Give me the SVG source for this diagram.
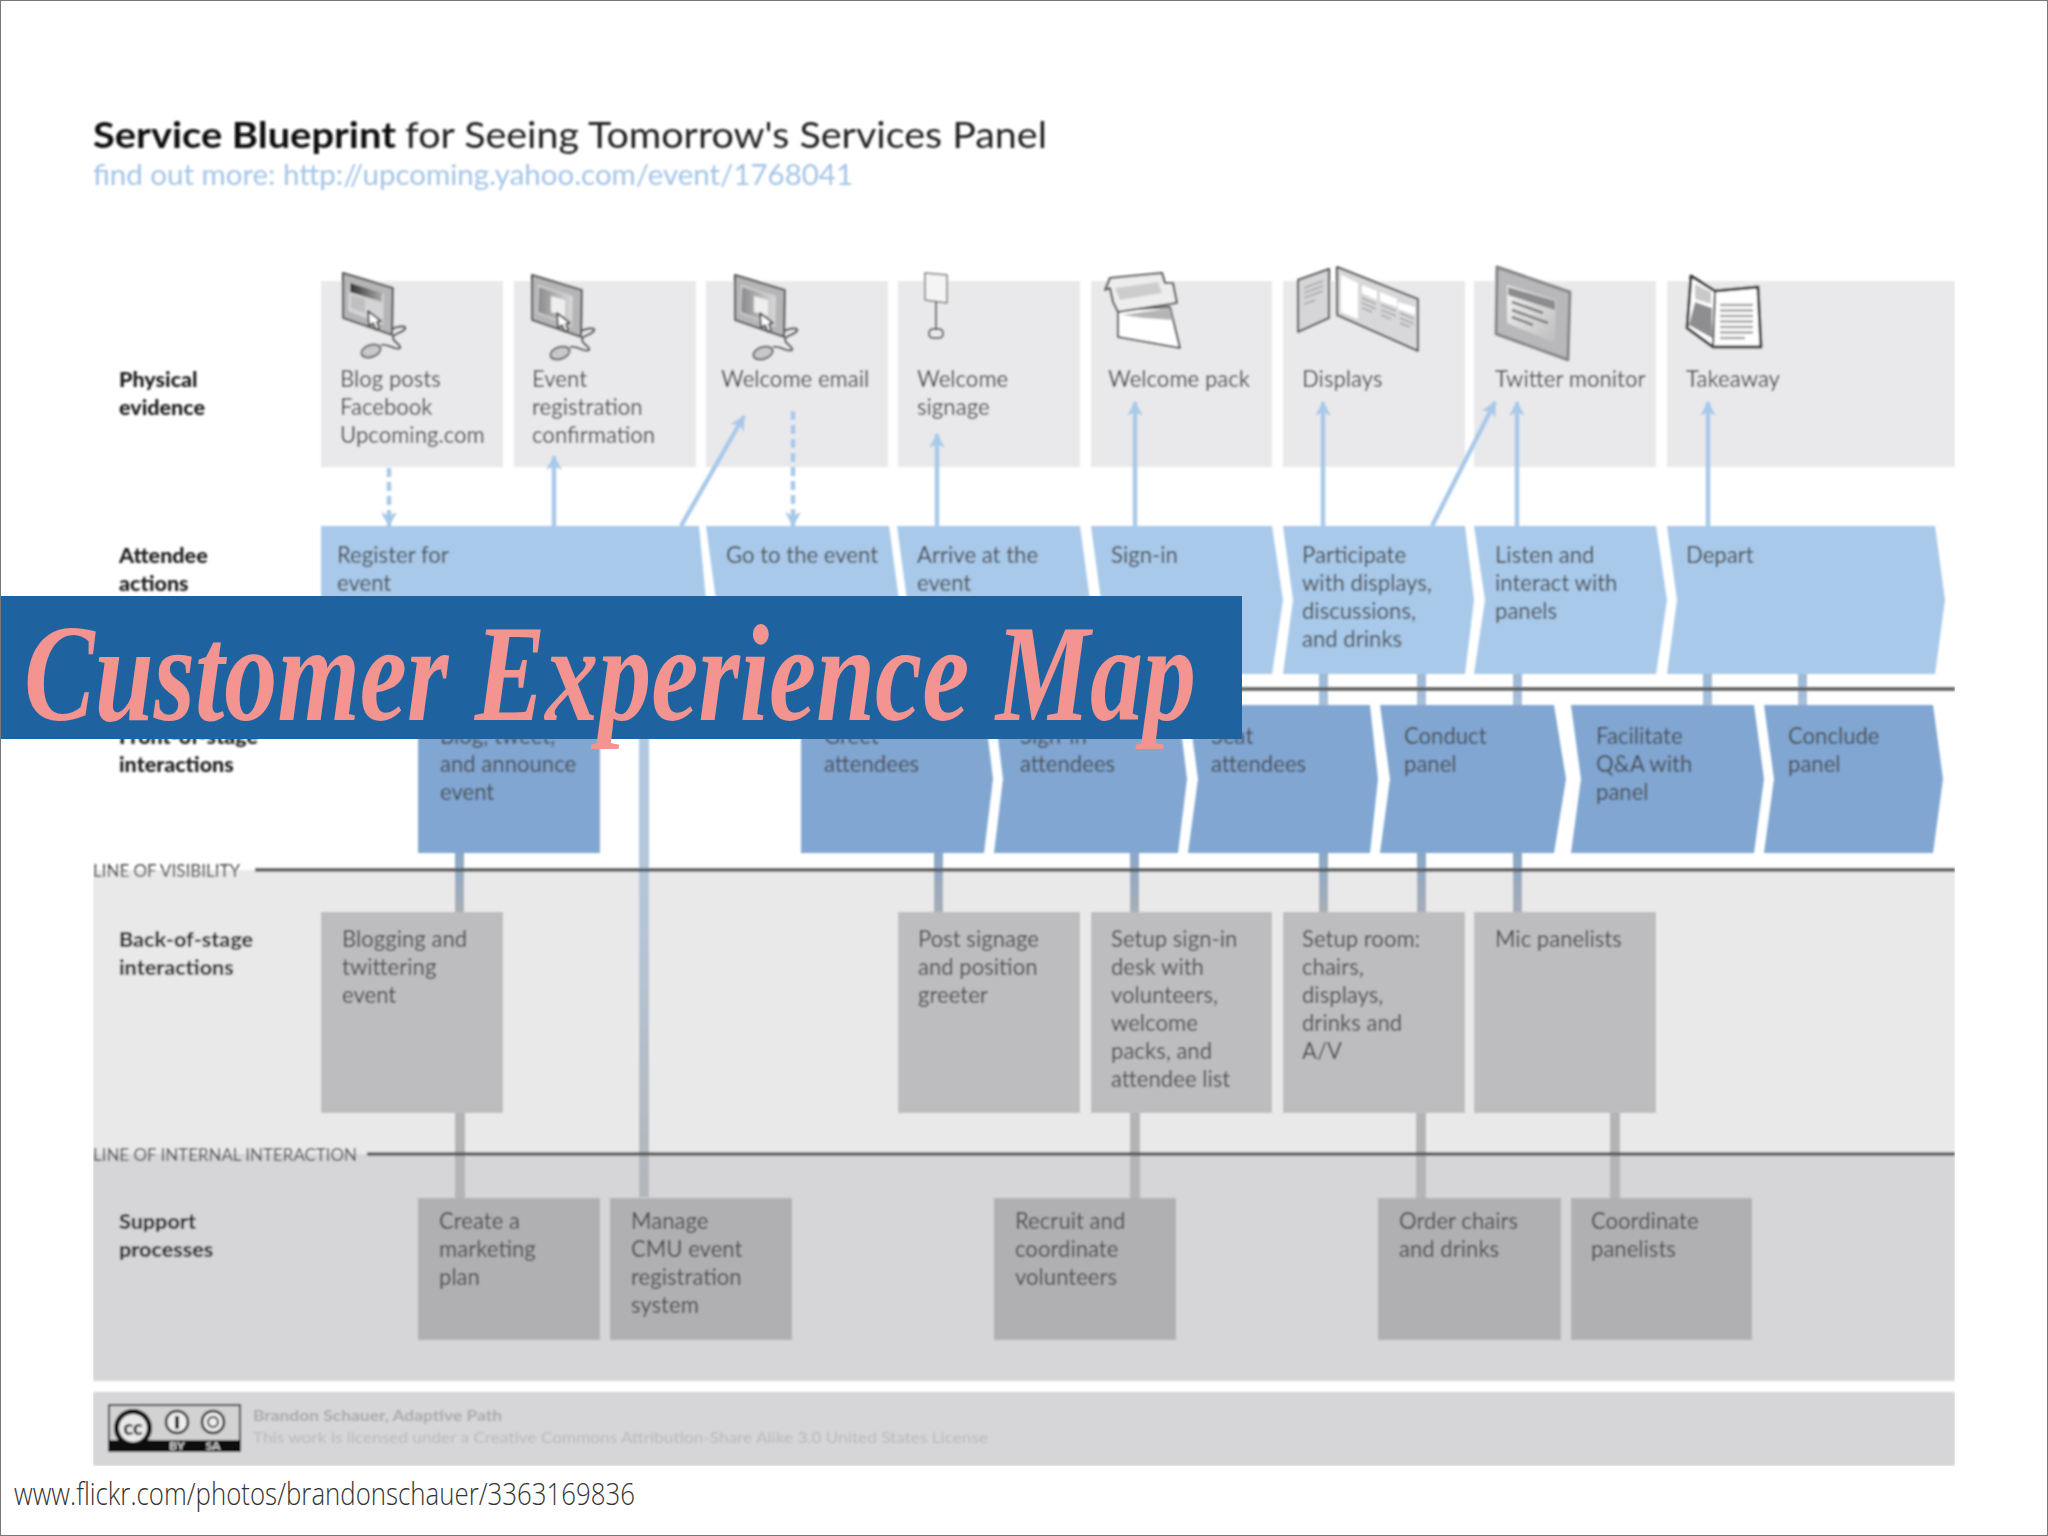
<svg xmlns="http://www.w3.org/2000/svg" width="2048" height="1536" viewBox="0 0 2048 1536">
<defs>
<style>
text{font-family:"Lato","Open Sans","Liberation Sans",sans-serif}
.t{font-size:22.1px;fill:#4a4a4c}
.l{font-size:21.5px;font-weight:900;fill:#1c1c1c}
.pe{fill:#e9e9eb}
.aa{fill:#a8c9e9}
.fs{fill:#80a6d1}
.bs{fill:#bdbdbf}
.su{fill:#b0b0b2}
.ln{stroke:#5a5a5c;stroke-width:3.5;fill:none}
.ar{stroke:#a8c9e9;stroke-width:4.5;fill:none;marker-end:url(#ah)}
.da{stroke:#a8c9e9;stroke-width:4.5;fill:none;stroke-dasharray:9 5;marker-end:url(#ah)}
.ic{fill:#fff;stroke:#555;stroke-width:2.2;stroke-linejoin:round}
.ig{fill:#b5b5b7;stroke:none}
</style>
<marker id="ah" markerUnits="userSpaceOnUse" markerWidth="22" markerHeight="20" refX="14" refY="9" orient="auto"><path d="M0 1 L15 9 L0 17 L4 9Z" fill="#a8c9e9"/></marker>
<linearGradient id="c1" x1="0" y1="0" x2="0" y2="1"><stop offset="0" stop-color="#9db9d6"/><stop offset="1" stop-color="#a9c0d8"/></linearGradient>
<linearGradient id="c2" x1="0" y1="0" x2="0" y2="1"><stop offset="0" stop-color="#8ba8c9"/><stop offset="1" stop-color="#a8adb5"/></linearGradient>
<linearGradient id="c3" x1="0" y1="0" x2="0" y2="1"><stop offset="0" stop-color="#afc9e4"/><stop offset=".5" stop-color="#b5c5d6"/><stop offset="1" stop-color="#b3b6ba"/></linearGradient>
<linearGradient id="hd" x1="0" y1="0" x2="1" y2="0"><stop offset="0" stop-color="#333"/><stop offset="1" stop-color="#aaa"/></linearGradient>
<linearGradient id="scr" x1="0" y1="0" x2="1" y2="0"><stop offset="0" stop-color="#8a8a8c"/><stop offset="1" stop-color="#d8d8d8"/></linearGradient>
<linearGradient id="tw" x1="0" y1="0" x2="1" y2="1"><stop offset="0" stop-color="#f2f2f2"/><stop offset="1" stop-color="#bdbdbf"/></linearGradient>
<filter id="soft" x="0" y="0" width="1" height="1"><feGaussianBlur stdDeviation="1"/></filter>
<g id="mon">
<path class="ic" style="fill:#b5b5b7" d="M343 273 L393 288 L392 335 L343 318Z"/>
<path fill="#d4d4d6" d="M349 283 L384 294 L383 325 L348 311Z"/>
</g>
<g id="cur">
<path class="ic" style="stroke-width:2" d="M368 311 L369 326 L373 323 L376 330 L379 328 L377 322 L381 321Z"/>
<path class="ic" style="fill:none" d="M392 329 C400 325 407 326 405 329 C402 333 392 334 393 338 C394 343 402 345 400 348 C396 351 388 343 381 345"/>
<ellipse cx="371" cy="351" rx="10" ry="6" transform="rotate(-18 371 351)" fill="#c8c8ca" stroke="#666" stroke-width="2"/>
</g>
<g id="doc">
<path fill="url(#scr)" d="M350 285 L383 295 L382 323 L349 310Z"/>
<path fill="#eee" d="M362 294 L376 298 V314 L362 310Z"/>
</g>
</defs>
<rect x="0" y="0" width="2048" height="1536" fill="#fff"/>
<g id="diagram" filter="url(#soft)">
<g id="title">
<text x="93" y="148" font-size="37" font-weight="700" fill="#111" textLength="303" lengthAdjust="spacingAndGlyphs">Service Blueprint</text>
<text x="405" y="148" font-size="37" fill="#222" textLength="642" lengthAdjust="spacingAndGlyphs">for Seeing Tomorrow's Services Panel</text>
<text x="93" y="185" font-size="29" fill="#a3c4e6" textLength="760" lengthAdjust="spacingAndGlyphs">find out more: http://upcoming.yahoo.com/event/1768041</text>
</g>
<g id="bands">
<rect x="93" y="870" width="1862" height="284" fill="#e9e9ea"/>
<rect x="93" y="1154" width="1862" height="227" fill="#d6d6d9"/>
<rect x="93" y="1392" width="1862" height="74" fill="#d6d6d9"/>
</g>
<g id="physical-evidence">
<g id="pe1"><rect class="pe" x="321" y="281" width="182" height="186"/><use href="#mon"/>
<path fill="url(#hd)" d="M350 283 L382 293 V302 L350 292Z"/><path fill="#c0c0c2" d="M351 295 L365 299 V313 L351 308Z"/><use href="#cur"/>
<text class="t"><tspan x="340" y="387">Blog posts</tspan><tspan x="340" y="415">Facebook</tspan><tspan x="340" y="443">Upcoming.com</tspan></text></g>
<g id="pe2"><rect class="pe" x="514" y="281" width="182" height="186"/><use href="#mon" x="189" y="2"/><use href="#doc" x="189" y="2"/><use href="#cur" x="189" y="2"/><text class="t"><tspan x="532" y="387">Event</tspan><tspan x="532" y="415">registration</tspan><tspan x="532" y="443">confirmation</tspan></text></g>
<g id="pe3"><rect class="pe" x="706" y="281" width="182" height="186"/><use href="#mon" x="392" y="2"/><use href="#doc" x="392" y="2"/><use href="#cur" x="392" y="2"/><text class="t" x="721" y="387">Welcome email</text></g>
<g id="pe4"><rect class="pe" x="898" y="281" width="182" height="186"/>
<path class="ic" style="stroke-width:1.5;stroke:#777;fill:#f4f4f4" d="M925 273 L947 275 L947 303 L925 300Z"/><path class="ic" style="fill:none;stroke-width:2" d="M936 302 V329"/><rect class="ic" style="fill:none;stroke-width:2" x="929" y="329" width="14" height="9" rx="4"/>
<text class="t"><tspan x="917" y="387">Welcome</tspan><tspan x="917" y="415">signage</tspan></text></g>
<g id="pe5"><rect class="pe" x="1091" y="281" width="181" height="186"/>
<path class="ic" d="M1118 310 L1170 307 L1180 348 L1118 337Z"/>
<path class="ig" d="M1122 315 L1170 308 L1173 320 L1143 318Z"/>
<path class="ic" style="fill:#ededed" d="M1105 290 L1110 278 L1162 273 L1165 283 L1173 283 L1177 303 L1118 312 L1113 302 L1110 288Z"/>
<path fill="#cdcdcf" d="M1115 288 L1158 282 L1162 293 L1120 300Z"/>
<text class="t" x="1108" y="387">Welcome pack</text></g>
<g id="pe6"><rect class="pe" x="1283" y="281" width="182" height="186"/>
<path class="ic" style="fill:#d6d6d8" d="M1298 280 L1329 269 L1329 318 L1298 332Z"/><path class="ic" style="fill:#d8d8da" d="M1337 267 L1418 299 L1418 351 L1337 315Z"/>
<path fill="#fff" d="M1341 275 L1358 283 V319 L1341 312Z M1362 285 L1377 291 V300 L1362 293Z M1380 292 L1397 299 V307 L1380 301Z M1398 302 L1415 307 V315 L1398 309Z"/>
<path stroke="#a5a5a7" stroke-width="1.5" fill="none" d="M1304 288 L1323 281 M1304 293 L1323 286 M1304 298 L1323 291 M1304 304 L1315 300 M1362 298 L1376 304 M1362 303 L1376 309 M1362 308 L1372 312 M1381 305 L1396 311 M1381 310 L1396 316 M1381 315 L1391 319 M1400 313 L1414 319 M1400 318 L1414 324 M1400 323 L1410 327"/>
<text class="t" x="1302" y="387">Displays</text></g>
<g id="pe7"><rect class="pe" x="1474" y="281" width="182" height="186"/>
<path class="ic" style="fill:#b8b8ba;stroke:#858587;stroke-width:3" d="M1497 267 L1570 292 L1568 360 L1496 334Z"/>
<path fill="url(#tw)" d="M1507 285 L1556 300 L1555 343 L1507 323Z"/>
<path fill="#8c8c8e" d="M1508 287 L1555 301 V310 L1508 295Z"/>
<path stroke="#7c7c7e" stroke-width="2.5" fill="none" d="M1512 302 L1543 313 M1512 310 L1548 323 M1512 317 L1533 325"/>
<text class="t" x="1495" y="387">Twitter monitor</text></g>
<g id="pe8"><rect class="pe" x="1667" y="281" width="288" height="186"/>
<path class="ic" style="stroke:#333;stroke-width:3" d="M1691 276 L1715 291 L1758 287 L1761 347 L1713 347 L1687 328Z"/>
<path fill="#c9c9cb" d="M1695 284 L1711 292 V304 L1695 299Z"/>
<path fill="#8e8e90" d="M1695 302 L1712 308 V338 L1689 325Z"/>
<path stroke="#a5a5a7" stroke-width="2.5" fill="none" d="M1720 305 H1753 M1720 310.500 H1753 M1720 316 H1753 M1720 321.500 H1753 M1720 327 H1753 M1720 332.500 H1753 M1720 338 H1745"/>
<path stroke="#444" stroke-width="2" fill="none" d="M1715 291 L1713 347"/>
<text class="t" x="1686" y="387">Takeaway</text></g>
</g>
<g id="connectors">
<path class="da" d="M389 468 V526"/>
<path class="ar" d="M554 526 V456"/>
<path class="ar" d="M681 526 L744 416"/>
<path class="da" d="M793 411 V526"/>
<path class="ar" d="M937 526 V434"/>
<path class="ar" d="M1135 526 V402"/>
<path class="ar" d="M1323 526 V402"/>
<path class="ar" d="M1432 526 L1495 402"/>
<path class="ar" d="M1517 526 V402"/>
<path class="ar" d="M1708 526 V402"/>
<g fill="url(#c1)">
<rect x="1319" y="674" width="9" height="31"/><rect x="1417" y="674" width="9" height="31"/><rect x="1513" y="674" width="9" height="31"/><rect x="1703" y="674" width="9" height="31"/><rect x="1798" y="674" width="9" height="31"/>
</g>
<rect x="639" y="674" width="10" height="523" fill="url(#c3)"/>
<g fill="url(#c2)">
<rect x="455" y="853" width="9" height="59"/><rect x="934" y="853" width="9" height="59"/><rect x="1130" y="853" width="9" height="59"/><rect x="1319" y="853" width="9" height="59"/><rect x="1417" y="853" width="9" height="59"/><rect x="1513" y="853" width="9" height="59"/>
</g>
<g fill="#b4b4b6">
<rect x="455" y="1113" width="10" height="85"/><rect x="1130" y="1113" width="10" height="85"/><rect x="1416" y="1113" width="10" height="85"/><rect x="1610" y="1113" width="10" height="85"/>
</g>
</g>
<g id="lines">
<path class="ln" d="M255 689 H1955"/>
<path class="ln" d="M255 870 H1955"/>
<path class="ln" d="M367 1154 H1955"/>
<text x="93" y="877" font-size="18" fill="#444" textLength="147" lengthAdjust="spacingAndGlyphs">LINE OF VISIBILITY</text>
<text x="93" y="1161" font-size="18" fill="#444" textLength="264" lengthAdjust="spacingAndGlyphs">LINE OF INTERNAL INTERACTION</text>
</g>
<g id="attendee-actions">
<g id="a1"><path class="aa" d="M321 526 H699 L706 600 L699 674 H321Z"/><text class="t"><tspan x="337" y="563">Register for</tspan><tspan x="337" y="591">event</tspan></text></g>
<g id="a2"><path class="aa" d="M706 526 H889 L899 600 L889 674 H706 L716 600Z"/><text class="t" x="726" y="563">Go to the event</text></g>
<g id="a3"><path class="aa" d="M897 526 H1080 L1090 600 L1080 674 H897 L907 600Z"/><text class="t"><tspan x="917" y="563">Arrive at the</tspan><tspan x="917" y="591">event</tspan></text></g>
<g id="a4"><path class="aa" d="M1091 526 H1272 L1283 600 L1272 674 H1091 L1101 600Z"/><text class="t" x="1111" y="563">Sign-in</text></g>
<g id="a5"><path class="aa" d="M1283 526 H1465 L1474 600 L1465 674 H1283 L1293 600Z"/><text class="t"><tspan x="1302" y="563">Participate</tspan><tspan x="1302" y="591">with displays,</tspan><tspan x="1302" y="619">discussions,</tspan><tspan x="1302" y="647">and drinks</tspan></text></g>
<g id="a6"><path class="aa" d="M1474 526 H1656 L1667 600 L1656 674 H1474 L1485 600Z"/><text class="t"><tspan x="1495" y="563">Listen and</tspan><tspan x="1495" y="591">interact with</tspan><tspan x="1495" y="619">panels</tspan></text></g>
<g id="a7"><path class="aa" d="M1667 526 H1935 L1945 600 L1935 674 H1667 L1677 600Z"/><text class="t" x="1686" y="563">Depart</text></g>
</g>
<g id="front-of-stage">
<g id="f1"><rect class="fs" x="418" y="705" width="182" height="148"/><text class="t"><tspan x="440" y="744">Blog, tweet,</tspan><tspan x="440" y="772">and announce</tspan><tspan x="440" y="800">event</tspan></text></g>
<g id="f2"><path class="fs" d="M801 705 H984 L993 779 L984 853 H801Z"/><text class="t"><tspan x="824" y="744">Greet</tspan><tspan x="824" y="772">attendees</tspan></text></g>
<g id="f3"><path class="fs" d="M994 705 H1178 L1187 779 L1178 853 H994 L1003 779Z"/><text class="t"><tspan x="1020" y="744">Sign-in</tspan><tspan x="1020" y="772">attendees</tspan></text></g>
<g id="f4"><path class="fs" d="M1188 705 H1370 L1378 779 L1370 853 H1188 L1198 779Z"/><text class="t"><tspan x="1211" y="744">Seat</tspan><tspan x="1211" y="772">attendees</tspan></text></g>
<g id="f5"><path class="fs" d="M1380 705 H1554 L1566 779 L1554 853 H1380 L1390 779Z"/><text class="t"><tspan x="1404" y="744">Conduct</tspan><tspan x="1404" y="772">panel</tspan></text></g>
<g id="f6"><path class="fs" d="M1571 705 H1754 L1764 779 L1754 853 H1571 L1581 779Z"/><text class="t"><tspan x="1596" y="744">Facilitate</tspan><tspan x="1596" y="772">Q&amp;A with</tspan><tspan x="1596" y="800">panel</tspan></text></g>
<g id="f7"><path class="fs" d="M1764 705 H1933 L1943 779 L1933 853 H1764 L1774 779Z"/><text class="t"><tspan x="1788" y="744">Conclude</tspan><tspan x="1788" y="772">panel</tspan></text></g>
</g>
<g id="back-of-stage">
<g id="b1"><rect class="bs" x="321" y="912" width="182" height="201"/><text class="t"><tspan x="342" y="947">Blogging and</tspan><tspan x="342" y="975">twittering</tspan><tspan x="342" y="1003">event</tspan></text></g>
<g id="b2"><rect class="bs" x="898" y="912" width="182" height="201"/><text class="t"><tspan x="918" y="947">Post signage</tspan><tspan x="918" y="975">and position</tspan><tspan x="918" y="1003">greeter</tspan></text></g>
<g id="b3"><rect class="bs" x="1091" y="912" width="181" height="201"/><text class="t"><tspan x="1111" y="947">Setup sign-in</tspan><tspan x="1111" y="975">desk with</tspan><tspan x="1111" y="1003">volunteers,</tspan><tspan x="1111" y="1031">welcome</tspan><tspan x="1111" y="1059">packs, and</tspan><tspan x="1111" y="1087">attendee list</tspan></text></g>
<g id="b4"><rect class="bs" x="1283" y="912" width="182" height="201"/><text class="t"><tspan x="1302" y="947">Setup room:</tspan><tspan x="1302" y="975">chairs,</tspan><tspan x="1302" y="1003">displays,</tspan><tspan x="1302" y="1031">drinks and</tspan><tspan x="1302" y="1059">A/V</tspan></text></g>
<g id="b5"><rect class="bs" x="1474" y="912" width="182" height="201"/><text class="t" x="1495" y="947">Mic panelists</text></g>
</g>
<g id="support">
<g id="s1"><rect class="su" x="418" y="1198" width="182" height="142"/><text class="t"><tspan x="439" y="1229">Create a</tspan><tspan x="439" y="1257">marketing</tspan><tspan x="439" y="1285">plan</tspan></text></g>
<g id="s2"><rect class="su" x="610" y="1198" width="182" height="142"/><text class="t"><tspan x="631" y="1229">Manage</tspan><tspan x="631" y="1257">CMU event</tspan><tspan x="631" y="1285">registration</tspan><tspan x="631" y="1313">system</tspan></text></g>
<g id="s3"><rect class="su" x="994" y="1198" width="182" height="142"/><text class="t"><tspan x="1015" y="1229">Recruit and</tspan><tspan x="1015" y="1257">coordinate</tspan><tspan x="1015" y="1285">volunteers</tspan></text></g>
<g id="s4"><rect class="su" x="1378" y="1198" width="183" height="142"/><text class="t"><tspan x="1399" y="1229">Order chairs</tspan><tspan x="1399" y="1257">and drinks</tspan></text></g>
<g id="s5"><rect class="su" x="1571" y="1198" width="181" height="142"/><text class="t"><tspan x="1591" y="1229">Coordinate</tspan><tspan x="1591" y="1257">panelists</tspan></text></g>
</g>
<g id="row-labels">
<text class="l"><tspan x="119" y="387">Physical</tspan><tspan x="119" y="415">evidence</tspan></text>
<text class="l"><tspan x="119" y="563">Attendee</tspan><tspan x="119" y="591">actions</tspan></text>
<text class="l"><tspan x="119" y="744">Front-of-stage</tspan><tspan x="119" y="772">interactions</tspan></text>
<text class="l"><tspan x="119" y="947">Back-of-stage</tspan><tspan x="119" y="975">interactions</tspan></text>
<text class="l"><tspan x="119" y="1229">Support</tspan><tspan x="119" y="1257">processes</tspan></text>
</g>
<g id="licence">
<rect x="109" y="1405" width="131" height="46" fill="#d2d2d2" stroke="#222" stroke-width="2"/>
<rect x="109" y="1440" width="131" height="11" fill="#111"/>
<circle cx="133" cy="1428" r="19" fill="#111"/>
<circle cx="133" cy="1428" r="14" fill="#e8e8e8"/>
<text x="133" y="1435" font-size="20" font-weight="900" text-anchor="middle" fill="#111">cc</text>
<circle cx="177" cy="1422" r="11" fill="#eee" stroke="#222" stroke-width="2.5"/><path d="M175 1416 H179 V1429 H175Z" fill="#111"/>
<circle cx="213" cy="1422" r="11" fill="#eee" stroke="#222" stroke-width="2.5"/><circle cx="213" cy="1422" r="5" fill="none" stroke="#222" stroke-width="2"/>
<text x="177" y="1450" font-size="12" font-weight="700" text-anchor="middle" fill="#ddd">BY</text>
<text x="213" y="1450" font-size="12" font-weight="700" text-anchor="middle" fill="#ddd">SA</text>
<text x="253" y="1421" font-size="15" font-weight="700" fill="#a9a9ab" textLength="249" lengthAdjust="spacingAndGlyphs">Brandon Schauer, Adaptive Path</text>
<text x="253" y="1443" font-size="15" fill="#b9b9bb" textLength="735" lengthAdjust="spacingAndGlyphs">This work is licensed under a Creative Commons Attribution-Share Alike 3.0 United States License</text>
</g>
</g>
<g id="banner">
<rect x="0" y="596" width="1242" height="143" fill="#1e63a0"/>
<text x="24" y="720" font-size="138" font-weight="700" font-style="italic" fill="#f39490" textLength="1172" lengthAdjust="spacingAndGlyphs" style="font-family:'Liberation Serif','DejaVu Serif',serif">Customer Experience Map</text>
</g>
<text id="source" x="14" y="1505" font-size="32" fill="#333" textLength="621" lengthAdjust="spacingAndGlyphs" style="font-family:'Open Sans','Liberation Sans',sans-serif;font-weight:300">www.flickr.com/photos/brandonschauer/3363169836</text>
<rect x="0.5" y="0.5" width="2047" height="1535" fill="none" stroke="#777" stroke-width="1"/>
</svg>
